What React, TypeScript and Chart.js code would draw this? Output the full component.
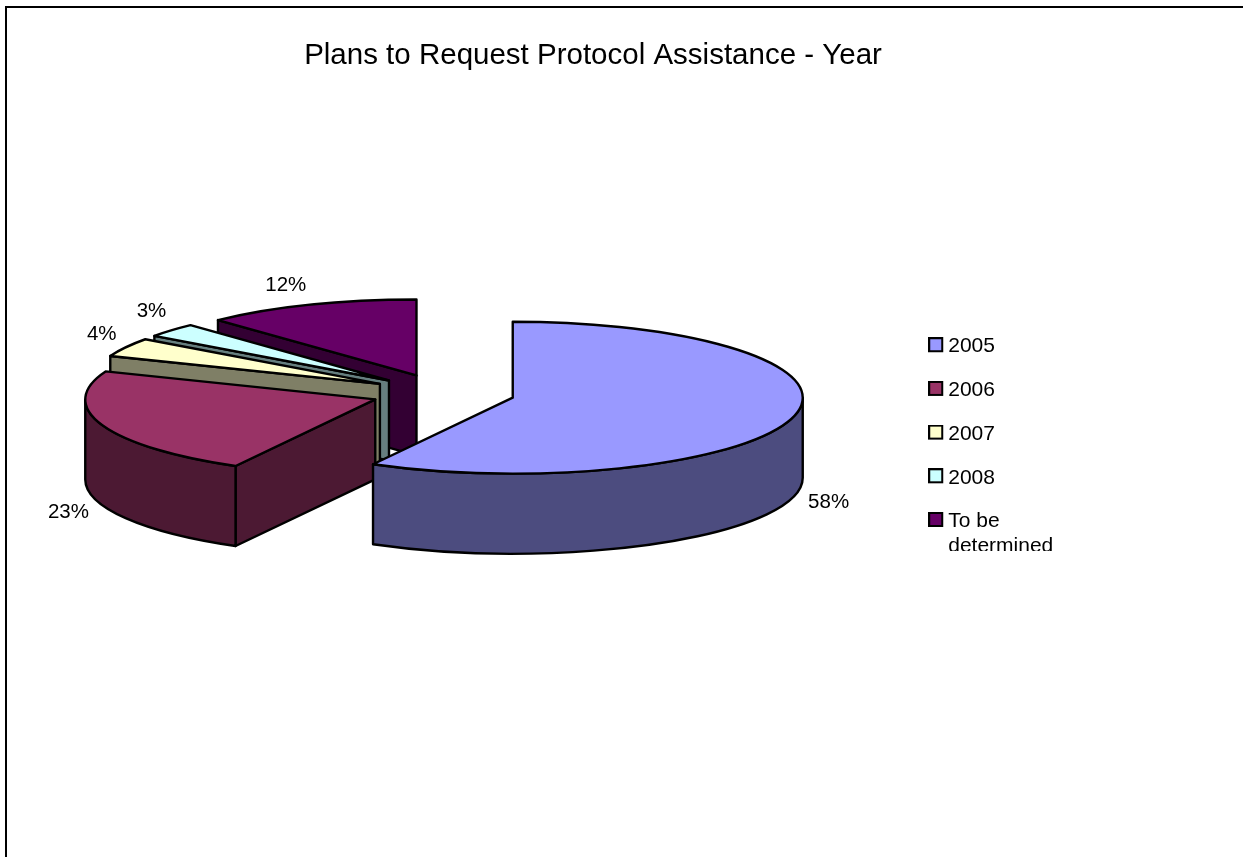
import React, { useEffect, useRef } from "react";
import { Chart, registerables } from "chart.js";

Chart.register(...registerables);

const categories: (string | string[])[] = ["2005", "2006", "2007", "2008", ["To be", "determined"]];
const shares = [58, 23, 4, 3, 12];
const faceColors = ["#9999FF", "#993366", "#FFFFCC", "#CCFFFF", "#660066"];
const wallColors = ["#4C4C7F", "#4C1933", "#7F7F66", "#667F7F", "#330033"];
const titleText = "Plans to Request Protocol Assistance - Year";

const FONT = "'Liberation Sans', Arial, sans-serif";
const TILT = 0.262; // vertical squash of the pie disc
const DEPTH = 80; // wall height of the extruded slices
const EXPLODE = 72;
const RADIUS = 290;
const LABEL_NUDGE = [
  [35, 6],
  [-34, 7],
  [-24, -13],
  [-20, -19],
  [-24, -19],
];

// Legend swatch: a filled square with a heavy black outline, sitting in the
// top-left of its image so it lines up with the text beside it.
function makeSwatch(color: string) {
  const c = document.createElement("canvas");
  c.width = 17;
  c.height = 19;
  const g = c.getContext("2d") as CanvasRenderingContext2D;
  g.fillStyle = color;
  g.fillRect(1, 1, 13, 13);
  g.strokeStyle = "#000";
  g.lineWidth = 2;
  g.strokeRect(1, 1, 13, 13);
  return c;
}

const framePlugin = {
  id: "frame",
  beforeDraw(chart: any) {
    const { ctx, width, height } = chart;
    ctx.save();
    ctx.fillStyle = "#fff";
    ctx.fillRect(0, 0, width, height);
    ctx.strokeStyle = "#000";
    ctx.lineWidth = 2;
    ctx.beginPath();
    ctx.moveTo(6, height);
    ctx.lineTo(6, 7);
    ctx.lineTo(width, 7);
    ctx.stroke();
    ctx.restore();
  },
  afterLayout(chart: any) {
    // Pie, title and legend each keep their own place on the sheet.
    const area = chart.chartArea;
    area.left = 10;
    area.right = 876;
    area.top = 100;
    area.bottom = 686;
    area.width = 866;
    area.height = 586;
    const t = chart.titleBlock;
    t.left = 304;
    t.right = 882;
    const l = chart.legend;
    const w = l.width;
    l.left = 913;
    l.right = l.left + w;
    l.top = 313.5;
    l.bottom = 900;
  },
  afterDraw(chart: any) {
    // The legend frame cuts off the bottom of its last line.
    const { ctx } = chart;
    ctx.save();
    ctx.fillStyle = "#fff";
    ctx.fillRect(925, 551, 220, 40);
    ctx.restore();
  },
};

const pie3dPlugin = {
  id: "pie3d",
  beforeDatasetDraw(chart: any, args: any) {
    const { ctx } = chart;
    const arcs = chart.getDatasetMeta(args.index).data;
    ctx.save();
    ctx.lineWidth = 2.4;
    ctx.lineJoin = "round";
    ctx.strokeStyle = "#000";
    // Paint from the back of the pie to the front.
    for (let i = arcs.length - 1; i >= 0; i--) {
      const el = arcs[i];
      const r = el.outerRadius;
      const ry = r * TILT;
      const mid = (el.startAngle + el.endAngle) / 2;
      const cx = el.x + Math.cos(mid) * el.options.offset;
      const cy = el.y + Math.sin(mid) * el.options.offset * TILT;

      ctx.fillStyle = wallColors[i];
      // Only the cut faces turned towards the viewer get a wall.
      const faces = [
        Math.cos(el.startAngle) < 0 ? el.startAngle : null,
        Math.cos(el.endAngle) > 0 ? el.endAngle : null,
      ];
      for (const a of faces) {
        if (a === null) continue;
        const ex = cx + Math.cos(a) * r;
        const ey = cy + Math.sin(a) * ry;
        ctx.beginPath();
        ctx.moveTo(cx, cy);
        ctx.lineTo(ex, ey);
        ctx.lineTo(ex, ey + DEPTH);
        ctx.lineTo(cx, cy + DEPTH);
        ctx.closePath();
        ctx.fill();
        ctx.stroke();
      }
      const a0 = Math.max(el.startAngle, 0);
      const a1 = Math.min(el.endAngle, Math.PI);
      if (a1 > a0) {
        ctx.beginPath();
        ctx.ellipse(cx, cy, r, ry, 0, a0, a1);
        ctx.ellipse(cx, cy + DEPTH, r, ry, 0, a1, a0, true);
        ctx.closePath();
        ctx.fill();
        ctx.stroke();
      }

      ctx.fillStyle = faceColors[i];
      ctx.beginPath();
      ctx.moveTo(cx, cy);
      ctx.ellipse(cx, cy, r, ry, 0, el.startAngle, el.endAngle);
      ctx.closePath();
      ctx.fill();
      ctx.stroke();
    }

    // Percentage labels just outside each slice's rim.
    ctx.fillStyle = "#000";
    ctx.font = `20.5px ${FONT}`;
    ctx.textAlign = "center";
    ctx.textBaseline = "middle";
    arcs.forEach((el: any, i: number) => {
      const r = el.outerRadius;
      const mid = (el.startAngle + el.endAngle) / 2;
      const cx = el.x + Math.cos(mid) * el.options.offset;
      const cy = el.y + Math.sin(mid) * el.options.offset * TILT;
      const lower = Math.sin(mid) > 0 ? DEPTH : 0;
      const x = cx + Math.cos(mid) * r + LABEL_NUDGE[i][0];
      const y = cy + Math.sin(mid) * r * TILT + lower + LABEL_NUDGE[i][1];
      ctx.fillText(`${shares[i]}%`, x, y);
    });
    ctx.restore();
    return false;
  },
};

export default function App() {
  const ref = useRef<HTMLCanvasElement>(null);
  useEffect(() => {
    const swatches = faceColors.map(makeSwatch);
    const chart = new Chart(ref.current as HTMLCanvasElement, {
      type: "pie",
      data: {
        labels: categories as any,
        datasets: [
          {
            data: shares,
            backgroundColor: faceColors,
            borderColor: "#000",
            borderWidth: 2,
            offset: EXPLODE,
          } as any,
        ],
      },
      options: {
        responsive: false,
        animation: false,
        radius: RADIUS,
        layout: { padding: { top: 38 } },
        plugins: {
          title: {
            display: true,
            text: titleText,
            color: "#000",
            font: { family: FONT, size: 29.5, weight: "normal" },
            padding: 0,
          },
          legend: {
            position: "right",
            align: "start",
            labels: {
              color: "#000",
              usePointStyle: true,
              pointStyleWidth: 2,
              boxWidth: 2,
              boxHeight: 15,
              padding: 22.7,
              font: { family: FONT, size: 21, lineHeight: 1.2 },
              generateLabels: () =>
                categories.map((text, i) => ({
                  text,
                  fillStyle: faceColors[i],
                  strokeStyle: "#000",
                  lineWidth: 2,
                  pointStyle: swatches[i],
                  fontColor: "#000",
                  hidden: false,
                  index: i,
                })),
            },
          },
          tooltip: { enabled: false },
        },
      } as any,
      plugins: [framePlugin, pie3dPlugin],
    });
    return () => chart.destroy();
  }, []);
  return (
    <canvas
      ref={ref}
      width={1243}
      height={857}
      style={{ position: "absolute", left: 0, top: 0, display: "block" }}
    />
  );
}
